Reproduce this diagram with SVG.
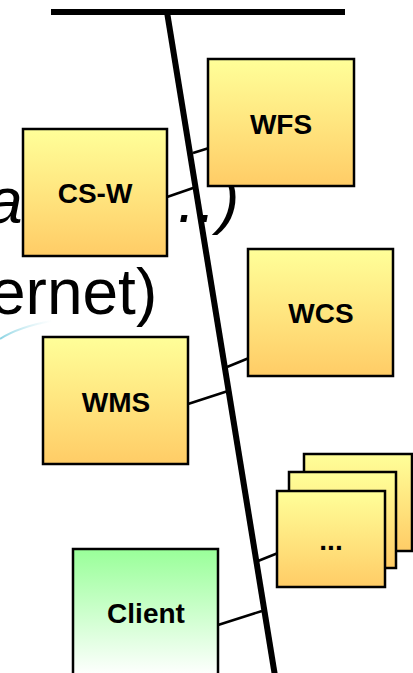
<svg xmlns="http://www.w3.org/2000/svg" width="413" height="673" viewBox="0 0 413 673">
  <defs>
    <linearGradient id="gy" x1="0" y1="0" x2="0" y2="1">
      <stop offset="0" stop-color="#FFFF99"/>
      <stop offset="1" stop-color="#FFCC66"/>
    </linearGradient>
    <linearGradient id="gg" x1="0" y1="0" x2="0" y2="1">
      <stop offset="0" stop-color="#99FF99"/>
      <stop offset="1" stop-color="#FFFFFF"/>
    </linearGradient>
    <linearGradient id="gb" x1="0" y1="0" x2="1" y2="0">
      <stop offset="0" stop-color="#7FCFE0" stop-opacity="0.9"/>
      <stop offset="1" stop-color="#BFE8F0" stop-opacity="0"/>
    </linearGradient>
    <style>
      .box { stroke: #000; stroke-width: 2.5; }
      .yel { fill: url(#gy); }
      .grn { fill: url(#gg); }
      .lbl { font-family: "Liberation Sans", Arial, sans-serif; font-weight: bold; font-size: 28px; text-anchor: middle; fill: #000; }
      .bg { font-family: "Liberation Sans", Arial, sans-serif; font-size: 64px; fill: #000; }
      .conn { stroke: #000; stroke-width: 2.5; fill: none; }
      .bus { stroke: #000; stroke-width: 6; fill: none; }
    </style>
  </defs>

  <g id="background-text">
    <text class="bg" x="-13" y="223" font-style="italic">a</text>
    <text class="bg" x="154" y="222" font-style="italic">…)</text>
    <text class="bg" x="-10" y="314">ernet)</text>
    <path d="M0,339 Q18,327 52,321" stroke="url(#gb)" stroke-width="2" fill="none"/>
  </g>

  <g id="connectors">
    <line class="bus" x1="51" y1="12" x2="345" y2="12"/>
    <line class="bus" x1="167" y1="12" x2="275" y2="676"/>
    <line class="conn" x1="193" y1="153" x2="209" y2="148"/>
    <line class="conn" x1="167" y1="197" x2="196" y2="187"/>
    <line class="conn" x1="227" y1="367" x2="249" y2="358"/>
    <line class="conn" x1="188" y1="404" x2="228" y2="391"/>
    <line class="conn" x1="258" y1="561" x2="278" y2="553"/>
    <line class="conn" x1="218" y1="625" x2="262" y2="611"/>
  </g>

  <g id="n-csw">
    <rect class="box yel" x="23" y="129" width="144" height="127"/>
    <text class="lbl" x="95" y="203">CS-W</text>
  </g>
  <g id="n-wfs">
    <rect class="box yel" x="208" y="59" width="146" height="127"/>
    <text class="lbl" x="281" y="134">WFS</text>
  </g>
  <g id="n-wcs">
    <rect class="box yel" x="248" y="249" width="145" height="127"/>
    <text class="lbl" x="321" y="323">WCS</text>
  </g>
  <g id="n-wms">
    <rect class="box yel" x="43" y="337" width="145" height="127"/>
    <text class="lbl" x="116" y="412">WMS</text>
  </g>
  <g id="n-more">
    <rect class="box yel" x="304" y="454" width="108" height="97"/>
    <rect class="box yel" x="289" y="472" width="107" height="96"/>
    <rect class="box yel" x="277" y="491" width="108" height="96"/>
    <text class="lbl" x="331" y="550">...</text>
  </g>
  <g id="n-client">
    <rect class="box grn" x="73" y="549" width="145" height="127"/>
    <text class="lbl" x="146" y="623">Client</text>
  </g>
</svg>
